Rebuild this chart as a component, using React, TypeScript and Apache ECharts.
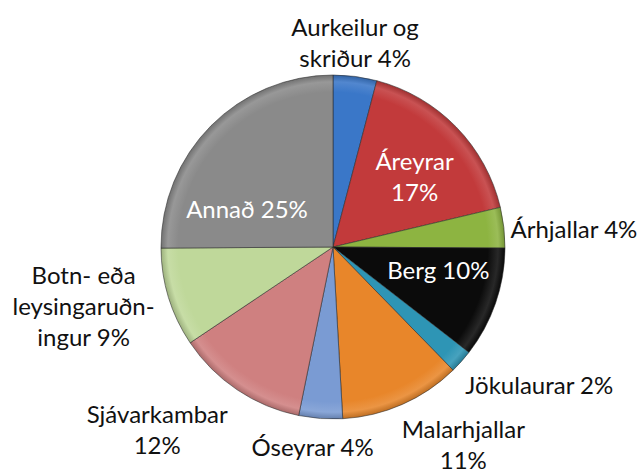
import React, { useEffect, useRef } from 'react';
import * as echarts from 'echarts';

// Categories (clockwise from 12 o'clock)
const categories: string[] = [
  'Aurkeilur og skriður',
  'Áreyrar',
  'Árhjallar',
  'Berg',
  'Jökulaurar',
  'Malarhjallar',
  'Óseyrar',
  'Sjávarkambar',
  'Botn- eða leysingaruðningur',
  'Annað',
];

// Shares in percent
const values: number[] = [4.1, 17.2, 3.8, 10.4, 2.2, 11.4, 4.1, 12.4, 9.3, 25.1];

// Label text templates ({p} = rounded percentage)
const labelTemplates: string[] = [
  'Aurkeilur og\nskriður {p}',
  'Áreyrar\n{p}',
  'Árhjallar {p}',
  'Berg {p}',
  'Jökulaurar {p}',
  'Malarhjallar\n{p}',
  'Óseyrar {p}',
  'Sjávarkambar\n{p}',
  'Botn- eða\nleysingaruðn-\ningur {p}',
  'Annað {p}',
];

const insideLabel: boolean[] = [false, true, false, true, false, false, false, false, false, true];

const colors: string[] = [
  '#3A77C8', '#C23A3B', '#8DB441', '#0B0B0B', '#2E95B5',
  '#E8862A', '#7A9BD3', '#CF8080', '#BFD89A', '#8A8A8A',
];

// Layout constants
const CX = 333;
const CY = 247;
const R = 172;
// label nudges relative to slice edge point (outside) or half-radius point (inside)
const labelNudge: [number, number][] = [
  [0, -34], [20, -11], [70, 1], [24, -6], [78, 23],
  [61, 40], [-8, 28], [-80, 39], [-85, 8], [-25, 22],
];

function mix(hex: string, target: number, t: number): string {
  const n = parseInt(hex.slice(1), 16);
  const r = (n >> 16) & 255, g = (n >> 8) & 255, b = n & 255;
  const f = (c: number) => Math.round(c + (target - c) * t);
  return `rgb(${f(r)},${f(g)},${f(b)})`;
}

export default function App() {
  const ref = useRef<HTMLDivElement>(null);
  useEffect(() => {
    document.body.style.margin = '0';
    if (!ref.current) return;
    const chart = echarts.init(ref.current, undefined, { renderer: 'svg' });
    const total = values.reduce((a, b) => a + b, 0);
    const cum: number[] = [];
    let acc = 0;
    values.forEach((v) => { cum.push(acc); acc += v; });

    const data = categories.map((name, i) => ({
      name,
      value: values[i],
      itemStyle: {
        color: {
          type: 'radial',
          x: CX,
          y: CY,
          r: R,
          global: true,
          colorStops: [
            { offset: 0, color: colors[i] },
            { offset: 0.9, color: colors[i] },
            { offset: 0.96, color: mix(colors[i], 255, 0.12) },
            { offset: 1, color: mix(colors[i], 0, 0.18) },
          ],
        },
      },
      label: {
        position: insideLabel[i] ? 'inside' : 'outside',
        color: insideLabel[i] ? '#ffffff' : '#111111',
      },
    }));

    chart.setOption({
      animation: false,
      backgroundColor: '#ffffff',
      series: [
        {
          type: 'pie',
          center: [CX, CY],
          radius: R,
          startAngle: 90,
          clockwise: true,
          avoidLabelOverlap: false,
          data,
          itemStyle: {
            borderColor: 'rgba(40,40,40,0.55)',
            borderWidth: 1,
          },
          label: {
            show: true,
            fontFamily: 'Lato',
            fontSize: 24,
            lineHeight: 31,
            overflow: 'none',
            formatter: (p: any) =>
              labelTemplates[p.dataIndex].replace('{p}', Math.round(p.value) + '%'),
          },
          labelLine: { show: false, length: 0, length2: 0 },
          labelLayout: (params: any) => {
            const i = params.dataIndex;
            const mid = ((cum[i] + values[i] / 2) / total) * Math.PI * 2;
            const k = insideLabel[i] ? 0.5 : 1;
            const ax = CX + R * k * Math.sin(mid);
            const ay = CY - R * k * Math.cos(mid);
            return {
              x: ax + labelNudge[i][0],
              y: ay + labelNudge[i][1],
              align: 'center',
              verticalAlign: 'middle',
            };
          },
          emphasis: { disabled: true },
        },
      ],
    });
    return () => chart.dispose();
  }, []);
  return <div ref={ref} style={{ width: 640, height: 470 }} />;
}
